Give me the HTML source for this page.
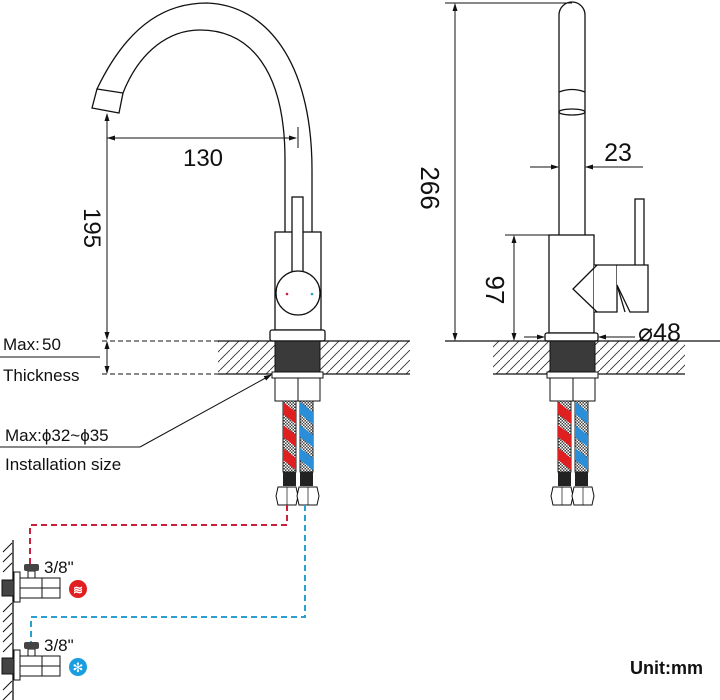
<!DOCTYPE html>
<html><head><meta charset="utf-8"><style>
html,body{margin:0;padding:0;background:#fff;}
svg{display:block;}
text{font-family:"Liberation Sans",sans-serif;fill:#111;}
</style></head><body>
<svg width="720" height="700" viewBox="0 0 720 700" xmlns="http://www.w3.org/2000/svg">
<defs>
<pattern id="hatch" width="10" height="10" patternUnits="userSpaceOnUse">
<path d="M0,10 L10,0" stroke="#333" stroke-width="0.9"/>
</pattern>
<pattern id="mesh" width="3" height="3" patternUnits="userSpaceOnUse">
<rect width="3" height="3" fill="#444"/>
<rect x="0" y="0" width="1.5" height="1.5" fill="#fff"/>
<rect x="1.5" y="1.5" width="1.5" height="1.5" fill="#fff"/>
</pattern>
<marker id="ar" markerWidth="8" markerHeight="8" refX="7" refY="4" orient="auto" markerUnits="userSpaceOnUse">
<path d="M0,1.5 L8,4 L0,6.5 Z" fill="#111"/>
</marker>
<g id="under">
<rect x="275" y="341" width="45" height="31" fill="#3a3a3a" stroke="#111"/>
<rect x="272" y="372" width="51" height="6" fill="#fff" stroke="#111"/>
<rect x="275" y="378" width="45" height="23" fill="#fff" stroke="#111"/>
<line x1="298" y1="378" x2="298" y2="401" stroke="#111"/>
<rect x="283" y="401" width="13" height="71" fill="url(#mesh)" stroke="#222"/>
<rect x="300" y="401" width="13" height="71" fill="url(#mesh)" stroke="#222"/>
<path d="M283,402 L296,412 L296,424 L283,414Z M283,425 L296,435 L296,447 L283,437Z M283,448 L296,458 L296,470 L283,460Z" fill="#e02020"/>
<path d="M300,402 L313,412 L313,424 L300,414Z M300,425 L313,435 L313,447 L300,437Z M300,448 L313,458 L313,470 L300,460Z" fill="#2a8fd8"/>
<rect x="283" y="472" width="13" height="14" fill="#222"/>
<rect x="300" y="472" width="13" height="14" fill="#222"/>
<path d="M278,487 L296,487 L298,496 L296,505 L278,505 L276,496Z" fill="#fff" stroke="#111"/>
<path d="M299,487 L317,487 L319,496 L317,505 L299,505 L297,496Z" fill="#fff" stroke="#111"/>
<line x1="287" y1="487" x2="287" y2="505" stroke="#111" stroke-width="0.7"/>
<line x1="308" y1="487" x2="308" y2="505" stroke="#111" stroke-width="0.7"/>
</g>
</defs>
<g fill="none" stroke="#111" stroke-width="1.3">
<path d="M97,89 C130,20 170,3 207,3 C265,5 312,60 312,170 L312,232"/>
<path d="M123,93 C140,50 170,30 200,30 C250,30 285,70 285,160 L285,232"/>
<path d="M97,89 L123,93 L119,113 L92,108 Z"/>
<rect x="275" y="232" width="46" height="98" fill="#fff"/>
<rect x="292" y="197" width="11" height="75" fill="#fff"/>
<circle cx="298" cy="293" r="22" fill="#fff"/>
<rect x="270" y="330" width="55" height="11" rx="2" fill="#fff"/>
</g>
<circle cx="287" cy="294" r="1.3" fill="#c02040"/>
<circle cx="312" cy="294" r="1.3" fill="#2aa0c0"/>
<rect x="218" y="341" width="57" height="33" fill="url(#hatch)"/>
<rect x="320" y="341" width="90" height="33" fill="url(#hatch)"/>
<line x1="218" y1="341" x2="410" y2="341" stroke="#111" stroke-width="1.2"/>
<line x1="218" y1="374" x2="410" y2="374" stroke="#111" stroke-width="1.2"/>
<use href="#under"/>
<g stroke="#111" stroke-width="1" fill="none">
<line x1="107" y1="138" x2="296" y2="138" marker-end="url(#ar)"/>
<line x1="296" y1="138" x2="108" y2="138" marker-end="url(#ar)"/>
<line x1="298" y1="127" x2="298" y2="148"/>
<line x1="107" y1="200" x2="107" y2="114" marker-end="url(#ar)"/>
<line x1="107" y1="200" x2="107" y2="339" marker-end="url(#ar)"/>
<line x1="107" y1="357" x2="107" y2="342" marker-end="url(#ar)"/>
<line x1="107" y1="357" x2="107" y2="373" marker-end="url(#ar)"/>
<line x1="102" y1="341" x2="218" y2="341" stroke-dasharray="5,3"/>
<line x1="102" y1="374" x2="218" y2="374" stroke-dasharray="5,3"/>
<line x1="0" y1="357" x2="100" y2="357"/>
<line x1="0" y1="447" x2="140" y2="447"/>
<line x1="140" y1="447" x2="271" y2="375" marker-end="url(#ar)"/>
</g>
<text x="203" y="166" font-size="24" text-anchor="middle">130</text>
<text transform="translate(84,228) rotate(90)" font-size="24" text-anchor="middle">195</text>
<text x="3" y="350" font-size="17">Max:</text>
<text x="42" y="350" font-size="17">50</text>
<text x="3" y="381" font-size="17">Thickness</text>
<text x="5" y="441" font-size="17">Max:ϕ32~ϕ35</text>
<text x="5" y="470" font-size="17">Installation size</text>
<path d="M287,505 L287,525 L30,525 L30,565" fill="none" stroke="#c8203a" stroke-width="2" stroke-dasharray="6,4"/>
<path d="M305,505 L305,617 L31,617 L31,642" fill="none" stroke="#2a9fd0" stroke-width="2" stroke-dasharray="6,4"/>
<line x1="13" y1="540" x2="13" y2="700" stroke="#111" stroke-width="1.3"/>
<g stroke="#111" stroke-width="1">
<path d="M3,552 L12,543 M3,562 L12,553 M3,572 L12,563 M3,612 L12,603 M3,622 L12,613 M3,632 L12,623 M3,642 L12,633 M3,652 L12,643 M3,690 L12,681 M3,700 L12,691"/>
</g>
<g id="valve">
<rect x="2" y="580" width="12" height="16" fill="#444" stroke="#111"/>
<rect x="14" y="572" width="6" height="30" fill="#fff" stroke="#111"/>
<rect x="20" y="578" width="40" height="20" fill="#fff" stroke="#111"/>
<line x1="42" y1="578" x2="42" y2="598" stroke="#111"/>
<line x1="20" y1="588" x2="60" y2="588" stroke="#111"/>
<rect x="28" y="571" width="7" height="7" fill="#fff" stroke="#111"/>
<rect x="24" y="564" width="15" height="7" rx="2" fill="#444"/>
</g>
<use href="#valve" transform="translate(0,78)"/>
<text x="44" y="573" font-size="17">3/8"</text>
<text x="44" y="651" font-size="17">3/8"</text>
<circle cx="78" cy="589" r="9" fill="#e02020"/>
<text x="78" y="594" font-size="12" font-weight="bold" text-anchor="middle" style="fill:#fff">≋</text>
<circle cx="78" cy="667" r="9" fill="#1a9ee0"/>
<text x="78" y="672" font-size="13" text-anchor="middle" style="fill:#fff">✻</text>
<g fill="none" stroke="#111" stroke-width="1.3">
<path d="M559,235 L559,15 A13,13 0 0 1 585,15 L585,235"/>
<path d="M559,92 Q572,87 585,92"/>
<ellipse cx="572" cy="112" rx="13" ry="3"/>
<rect x="635" y="199" width="9" height="70" fill="#fff"/>
<rect x="549" y="235" width="45" height="98" fill="#fff"/>
<path d="M594,265 L617,265 L617,312 L594,312" fill="#fff"/>
<path d="M597,265 L573,289 L597,312"/>
<path d="M617,265 L648,265 L648,312 L630,312 L617,285" fill="#fff"/>
<path d="M617,285 L625,312"/>
<rect x="545" y="333" width="53" height="8" rx="2" fill="#fff"/>
</g>
<rect x="493" y="341" width="59" height="33" fill="url(#hatch)"/>
<rect x="595" y="341" width="90" height="33" fill="url(#hatch)"/>
<line x1="445" y1="341" x2="720" y2="341" stroke="#111" stroke-width="1.2"/>
<line x1="493" y1="374" x2="685" y2="374" stroke="#111" stroke-width="1.2"/>
<use href="#under" transform="translate(275,0)"/>
<g stroke="#111" stroke-width="1" fill="none">
<line x1="445" y1="3" x2="572" y2="3"/>
<line x1="455" y1="170" x2="455" y2="4" marker-end="url(#ar)"/>
<line x1="455" y1="170" x2="455" y2="340" marker-end="url(#ar)"/>
<line x1="530" y1="167" x2="558" y2="167" marker-end="url(#ar)"/>
<line x1="643" y1="167" x2="586" y2="167" marker-end="url(#ar)"/>
<line x1="505" y1="235" x2="549" y2="235"/>
<line x1="514" y1="290" x2="514" y2="236" marker-end="url(#ar)"/>
<line x1="514" y1="290" x2="514" y2="340" marker-end="url(#ar)"/>
<line x1="524" y1="337" x2="544" y2="337" marker-end="url(#ar)"/>
<line x1="635" y1="337" x2="599" y2="337" marker-end="url(#ar)"/>
</g>
<text x="618" y="161" font-size="25" text-anchor="middle">23</text>
<text transform="translate(421,188) rotate(90)" font-size="26" text-anchor="middle">266</text>
<text transform="translate(486,290) rotate(90)" font-size="26" text-anchor="middle">97</text>
<text x="638" y="341" font-size="25">⌀48</text>
<text x="630" y="674" font-size="18" font-weight="bold">Unit:mm</text>
</svg>
</body></html>
